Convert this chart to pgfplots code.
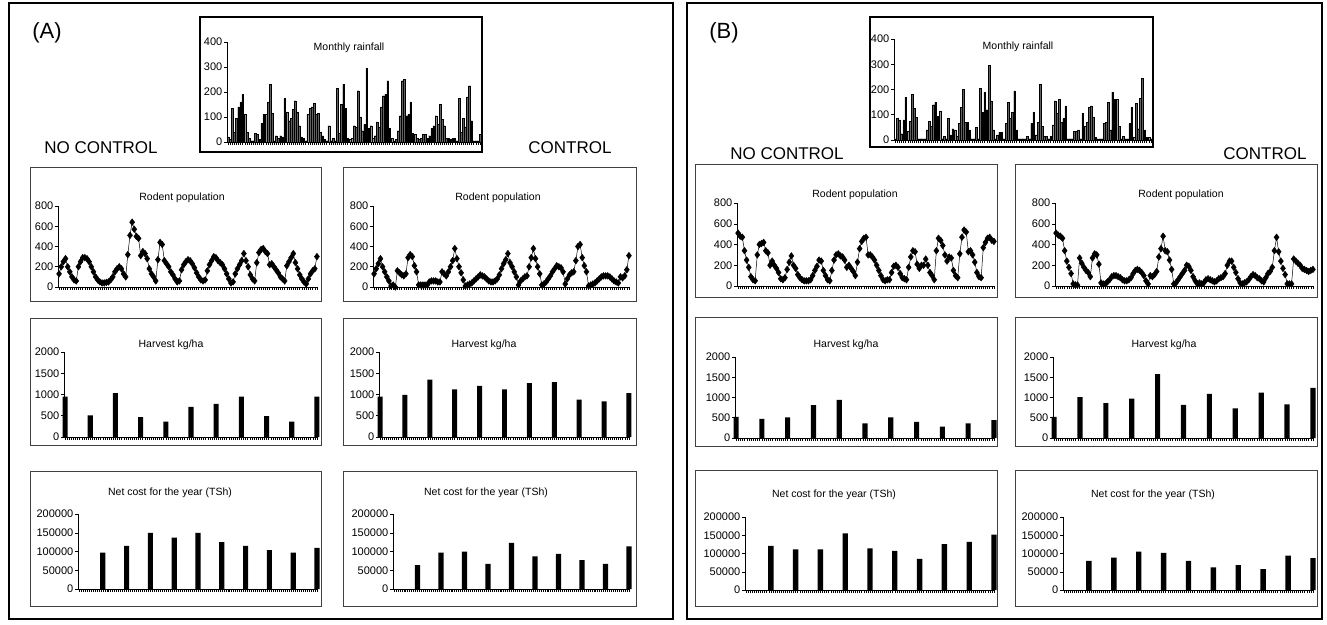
\documentclass[border=0pt]{standalone}
\usepackage{fontspec}
\setmainfont{Liberation Sans}
\usepackage{pgfplots}
\usepackage{pgfplotstable}
\pgfplotsset{compat=1.18}

% Monthly rainfall (mm), 121 months
\pgfplotstableread[row sep=\\,header=false]{20\\10\\135\\40\\95\\140\\160\\190\\110\\40\\15\\5\\5\\35\\30\\10\\75\\110\\110\\160\\230\\115\\5\\25\\15\\25\\20\\175\\120\\85\\95\\130\\165\\120\\65\\20\\15\\5\\110\\135\\140\\155\\110\\115\\40\\25\\10\\5\\65\\5\\15\\5\\215\\35\\150\\230\\135\\15\\10\\15\\65\\60\\205\\100\\45\\70\\295\\55\\65\\15\\25\\80\\60\\140\\185\\190\\245\\55\\15\\5\\10\\45\\105\\245\\250\\105\\110\\160\\35\\30\\15\\10\\15\\30\\30\\15\\25\\55\\65\\105\\70\\150\\90\\65\\15\\15\\10\\15\\15\\5\\175\\40\\95\\60\\180\\225\\85\\5\\5\\5\\30\\}\rainA
\pgfplotstableread[row sep=\\,header=false]{5\\85\\80\\25\\80\\170\\35\\75\\180\\125\\90\\5\\5\\5\\5\\40\\75\\55\\140\\150\\95\\115\\5\\15\\5\\85\\20\\45\\40\\15\\65\\130\\200\\70\\70\\40\\5\\5\\50\\5\\205\\110\\190\\120\\295\\155\\40\\5\\20\\30\\30\\5\\65\\150\\85\\110\\195\\40\\5\\5\\5\\5\\15\\5\\65\\110\\20\\70\\220\\55\\15\\15\\5\\15\\60\\155\\105\\160\\70\\85\\135\\5\\5\\5\\35\\35\\40\\5\\105\\55\\70\\130\\135\\90\\10\\5\\5\\5\\65\\70\\150\\40\\190\\160\\160\\55\\5\\15\\5\\5\\65\\130\\10\\145\\45\\165\\245\\40\\10\\10\\5\\}\rainB
% Rodent populations
\pgfplotstableread[row sep=\\,header=false]{130\\200\\250\\280\\200\\150\\100\\70\\60\\200\\250\\290\\290\\280\\250\\200\\150\\100\\70\\50\\40\\40\\45\\50\\70\\100\\150\\180\\200\\180\\130\\100\\320\\510\\640\\570\\500\\480\\310\\350\\330\\280\\180\\130\\100\\60\\270\\440\\420\\260\\230\\200\\150\\120\\80\\50\\60\\170\\220\\250\\270\\260\\230\\190\\140\\100\\70\\60\\70\\160\\220\\260\\300\\290\\260\\240\\220\\180\\130\\80\\40\\50\\130\\180\\220\\260\\330\\260\\200\\120\\80\\60\\240\\340\\370\\380\\350\\330\\220\\230\\200\\170\\140\\100\\80\\60\\210\\250\\290\\330\\240\\180\\120\\80\\50\\30\\80\\130\\160\\180\\300\\}\rodAN
\pgfplotstableread[row sep=\\,header=false]{130\\180\\230\\280\\200\\150\\100\\60\\10\\20\\0\\160\\140\\120\\110\\130\\290\\320\\300\\210\\150\\20\\20\\20\\20\\20\\50\\60\\60\\60\\50\\50\\150\\130\\110\\150\\200\\260\\380\\280\\200\\140\\70\\10\\20\\30\\40\\60\\80\\100\\120\\110\\100\\80\\60\\50\\50\\60\\80\\120\\180\\230\\270\\330\\240\\200\\150\\100\\20\\60\\80\\100\\110\\200\\290\\380\\280\\200\\130\\20\\30\\50\\80\\110\\150\\180\\210\\200\\190\\150\\30\\80\\120\\140\\150\\260\\400\\420\\290\\210\\150\\10\\20\\30\\40\\60\\80\\100\\110\\110\\110\\100\\80\\60\\50\\40\\100\\90\\110\\170\\310\\}\rodAC
\pgfplotstableread[row sep=\\,header=false]{510\\480\\470\\340\\250\\180\\90\\60\\50\\300\\400\\410\\420\\340\\320\\200\\240\\200\\170\\130\\70\\60\\80\\160\\230\\290\\200\\170\\110\\80\\60\\50\\50\\50\\60\\100\\150\\190\\250\\240\\150\\100\\60\\50\\150\\250\\300\\310\\290\\280\\250\\180\\200\\170\\140\\100\\230\\360\\430\\460\\470\\300\\300\\280\\250\\200\\150\\100\\60\\50\\60\\60\\130\\190\\200\\180\\120\\80\\70\\60\\180\\280\\340\\330\\210\\170\\200\\200\\260\\200\\130\\100\\60\\340\\460\\440\\390\\300\\240\\280\\270\\150\\100\\80\\310\\470\\540\\520\\330\\340\\300\\230\\130\\90\\80\\370\\420\\460\\470\\440\\430\\}\rodBN
\pgfplotstableread[row sep=\\,header=false]{510\\490\\480\\460\\340\\240\\180\\120\\20\\10\\10\\270\\220\\180\\150\\130\\90\\270\\310\\300\\210\\30\\20\\20\\40\\60\\90\\100\\100\\90\\80\\60\\50\\50\\60\\80\\120\\150\\160\\150\\130\\100\\50\\20\\100\\90\\110\\140\\280\\360\\480\\340\\330\\250\\160\\20\\30\\60\\90\\120\\150\\200\\190\\150\\90\\50\\20\\30\\20\\30\\60\\70\\60\\50\\40\\50\\70\\80\\90\\120\\200\\240\\240\\180\\130\\70\\30\\20\\30\\40\\60\\90\\110\\100\\80\\70\\50\\40\\80\\120\\140\\180\\340\\470\\330\\240\\170\\110\\20\\20\\20\\260\\240\\220\\200\\170\\160\\150\\140\\150\\160\\}\rodBC

\pgfplotsset{
  panel/.style={
    scale only axis, anchor=south west,
    axis x line*=bottom, axis y line*=left,
    axis line style={black,line width=0.7pt},
    xmin=-0.5, xmax=120.5, ymin=0,
    xtick={0,...,120}, xticklabels={},
    tick align=outside, major tick length=3pt,
    tick style={black,line width=0.5pt},
    /pgf/number format/assume math mode=true,
    /pgf/number format/fixed,
    /pgf/number format/1000 sep={},
    scaled y ticks=false,
    yticklabel style={font=\fontsize{11}{12}\selectfont, inner sep=1.5pt},
    clip=false,
  },
  rod/.style={black, line width=0.5pt, mark=diamond*, mark size=3.3pt},
  hbar/.style={ybar, bar width=2.4, fill=black, draw=none},
}
\newcommand{\ttl}{\fontsize{10.5}{12}\selectfont}

\begin{document}
\begin{tikzpicture}[x=1pt,y=1pt]
\path[use as bounding box] (0,0) rectangle (1327,624);
% outer frames
\draw[line width=1.6pt] (9,5) rectangle (673,621);
\draw[line width=1.6pt] (687,5) rectangle (1322,621);
\draw[line width=1.2pt] (200,472) rectangle (482,607);
\draw[line width=1.2pt] (870,477) rectangle (1153,607);
\foreach \a/\b in {30/321,343/636}{
  \draw[black!75,line width=1pt] (\a,322) rectangle (\b,456);
  \draw[black!75,line width=1pt] (\a,178) rectangle (\b,305);
  \draw[black!75,line width=1pt] (\a,18) rectangle (\b,153);
}
\foreach \a/\b in {695/997,1015/1317}{
  \draw[black!75,line width=1pt] (\a,326) rectangle (\b,459);
  \draw[black!75,line width=1pt] (\a,177) rectangle (\b,306);
  \draw[black!75,line width=1pt] (\a,18) rectangle (\b,154);
}
% labels
\node[font=\fontsize{22}{24}\selectfont] at (47,591) {(A)};
\node[font=\fontsize{22}{24}\selectfont] at (724,591) {(B)};
\node[font=\fontsize{17}{18}\selectfont] at (101,476) {NO CONTROL};
\node[font=\fontsize{17}{18}\selectfont] at (570,476) {CONTROL};
\node[font=\fontsize{17}{18}\selectfont] at (787,470) {NO CONTROL};
\node[font=\fontsize{17}{18}\selectfont] at (1265,470) {CONTROL};
% titles
\node[font=\ttl] at (349,576) {Monthly rainfall};
\node[font=\ttl] at (1018,577) {Monthly rainfall};
\node[font=\ttl] at (182,426) {Rodent population};
\node[font=\ttl] at (498,426) {Rodent population};
\node[font=\ttl] at (855,429) {Rodent population};
\node[font=\ttl] at (1181,429) {Rodent population};
\node[font=\ttl] at (171,279) {Harvest kg/ha};
\node[font=\ttl] at (484,279) {Harvest kg/ha};
\node[font=\ttl] at (846,279) {Harvest kg/ha};
\node[font=\ttl] at (1164,279) {Harvest kg/ha};
\node[font=\ttl] at (170,131) {Net cost for the year (TSh)};
\node[font=\ttl] at (486,131) {Net cost for the year (TSh)};
\node[font=\ttl] at (834,129) {Net cost for the year (TSh)};
\node[font=\ttl] at (1153,129) {Net cost for the year (TSh)};

% rainfall
\begin{axis}[panel, ybar, bar width=0.8, at={(227pt,482pt)}, width=254pt, height=100pt, ymax=400, ytick={0,100,200,300,400}]
\addplot[fill=black!62, draw=black, line width=0.25pt] table[x expr=\coordindex, y index=0] {\rainA};
\end{axis}
\begin{axis}[panel, ybar, bar width=0.8, at={(894pt,484pt)}, width=258pt, height=101pt, ymax=400, ytick={0,100,200,300,400}]
\addplot[fill=black!62, draw=black, line width=0.25pt] table[x expr=\coordindex, y index=0] {\rainB};
\end{axis}

% rodent
\begin{axis}[panel, at={(58pt,337pt)}, width=260pt, height=81pt, ymax=800, ytick={0,200,400,600,800}]
\addplot[rod] table[x expr=\coordindex, y index=0] {\rodAN};
\end{axis}
\begin{axis}[panel, at={(373pt,337pt)}, width=257pt, height=81pt, ymax=800, ytick={0,200,400,600,800}]
\addplot[rod] table[x expr=\coordindex, y index=0] {\rodAC};
\end{axis}
\begin{axis}[panel, at={(737pt,338pt)}, width=258pt, height=83pt, ymax=800, ytick={0,200,400,600,800}]
\addplot[rod] table[x expr=\coordindex, y index=0] {\rodBN};
\end{axis}
\begin{axis}[panel, at={(1055pt,338pt)}, width=259pt, height=83pt, ymax=800, ytick={0,200,400,600,800}]
\addplot[rod] table[x expr=\coordindex, y index=0] {\rodBC};
\end{axis}

% harvest
\begin{axis}[panel, at={(64pt,187pt)}, width=254pt, height=85pt, ymax=2000, ytick={0,500,1000,1500,2000}]
\addplot[hbar] coordinates {(0,950) (12,510) (24,1030) (36,470) (48,360) (60,710) (72,780) (84,950) (96,490) (108,360) (120,950)};
\end{axis}
\begin{axis}[panel, at={(379pt,187pt)}, width=251pt, height=85pt, ymax=2000, ytick={0,500,1000,1500,2000}]
\addplot[hbar] coordinates {(0,950) (12,990) (24,1350) (36,1120) (48,1200) (60,1120) (72,1270) (84,1290) (96,880) (108,840) (120,1030)};
\end{axis}
\begin{axis}[panel, at={(735pt,186pt)}, width=260pt, height=81pt, ymax=2000, ytick={0,500,1000,1500,2000}]
\addplot[hbar] coordinates {(0,520) (12,470) (24,510) (36,810) (48,940) (60,360) (72,510) (84,400) (96,280) (108,360) (120,440)};
\end{axis}
\begin{axis}[panel, at={(1053pt,186pt)}, width=261pt, height=81pt, ymax=2000, ytick={0,500,1000,1500,2000}]
\addplot[hbar] coordinates {(0,520) (12,1010) (24,860) (36,970) (48,1580) (60,820) (72,1090) (84,730) (96,1120) (108,830) (120,1240)};
\end{axis}

% net cost
\begin{axis}[panel, at={(78pt,35pt)}, width=240pt, height=75pt, ymax=200000, ytick={0,50000,100000,150000,200000}]
\addplot[hbar, bar width=2.6] coordinates {(12,97000) (24,115000) (36,150000) (48,137000) (60,150000) (72,125000) (84,115000) (96,104000) (108,97000) (120,110000)};
\end{axis}
\begin{axis}[panel, at={(393pt,35pt)}, width=237pt, height=75pt, ymax=200000, ytick={0,50000,100000,150000,200000}]
\addplot[hbar, bar width=2.6] coordinates {(12,64000) (24,97000) (36,100000) (48,67000) (60,123000) (72,87000) (84,94000) (96,77000) (108,67000) (120,114000)};
\end{axis}
\begin{axis}[panel, at={(745pt,34pt)}, width=250pt, height=73pt, ymax=200000, ytick={0,50000,100000,150000,200000}]
\addplot[hbar, bar width=2.6] coordinates {(12,121000) (24,111000) (36,111000) (48,155000) (60,114000) (72,107000) (84,85000) (96,126000) (108,132000) (120,152000)};
\end{axis}
\begin{axis}[panel, at={(1063pt,34pt)}, width=251pt, height=73pt, ymax=200000, ytick={0,50000,100000,150000,200000}]
\addplot[hbar, bar width=2.6] coordinates {(12,80000) (24,89000) (36,105000) (48,102000) (60,80000) (72,62000) (84,68000) (96,57000) (108,94000) (120,87000)};
\end{axis}
\end{tikzpicture}
\end{document}
